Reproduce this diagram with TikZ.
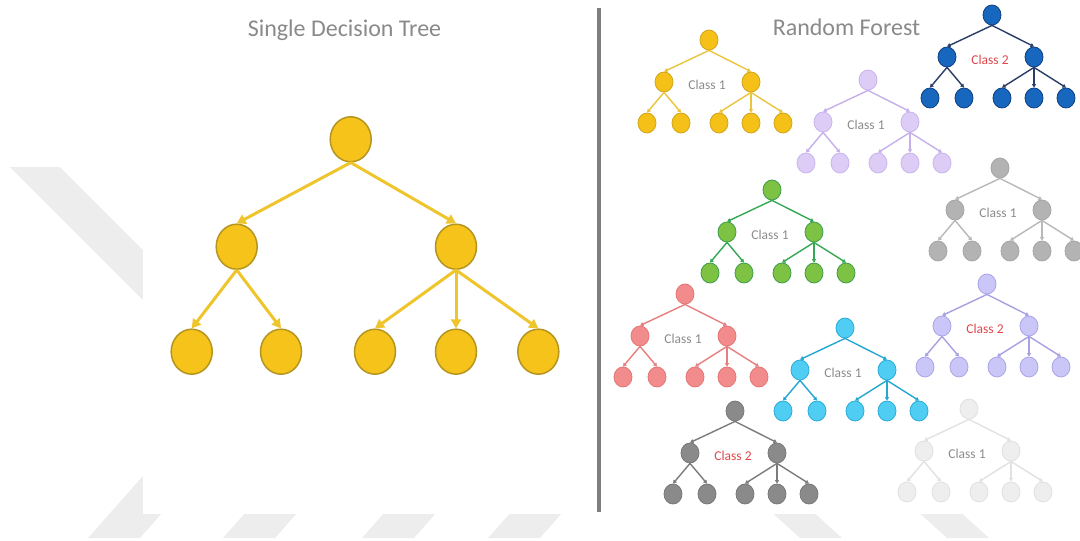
\documentclass[tikz,border=0pt]{standalone}
\usepackage{fontspec}
\setmainfont{Carlito}
\usetikzlibrary{arrows.meta,shapes.geometric}

% palette
\definecolor{wmgray}{HTML}{EDEDED}
\definecolor{titlegray}{HTML}{8A8A8A}
\definecolor{rulegray}{HTML}{7F7F7F}
\definecolor{labelgray}{HTML}{8C8C8C}
\definecolor{labelred}{HTML}{E0474C}
\definecolor{goldfill}{HTML}{F6C31B}
\definecolor{golddraw}{HTML}{B5951F}
\definecolor{goldline}{HTML}{EFC52D}

\definecolor{yellowF}{HTML}{F5C118}\definecolor{yellowD}{HTML}{D0A418}\definecolor{yellowL}{HTML}{E9C43C}
\definecolor{lilacF}{HTML}{DDCDF6}\definecolor{lilacD}{HTML}{C8B3EE}\definecolor{lilacL}{HTML}{C6B0EC}
\definecolor{navyF}{HTML}{1767BF}\definecolor{navyD}{HTML}{0F3F7F}\definecolor{navyL}{HTML}{2B3D66}
\definecolor{greenF}{HTML}{7DC242}\definecolor{greenD}{HTML}{3C9E4A}\definecolor{greenL}{HTML}{35A853}
\definecolor{silverF}{HTML}{B3B3B3}\definecolor{silverD}{HTML}{A5A5A5}\definecolor{silverL}{HTML}{B8B8B8}
\definecolor{salmonF}{HTML}{F28C8C}\definecolor{salmonD}{HTML}{E57575}\definecolor{salmonL}{HTML}{E67F7F}
\definecolor{cyanF}{HTML}{4FCDF3}\definecolor{cyanD}{HTML}{29ADD8}\definecolor{cyanL}{HTML}{25A7D3}
\definecolor{periF}{HTML}{CAC6F8}\definecolor{periD}{HTML}{AAA4E8}\definecolor{periL}{HTML}{A7A0E3}
\definecolor{slateF}{HTML}{8A8A8A}\definecolor{slateD}{HTML}{787878}\definecolor{slateL}{HTML}{7C7C7C}
\definecolor{mistF}{HTML}{EEEEEE}\definecolor{mistD}{HTML}{E0E0E0}\definecolor{mistL}{HTML}{E2E2E2}

\tikzset{
  wm/.style={fill=wmgray, draw=none},
  title/.style={font=\fontsize{24}{28}\selectfont, text=titlegray, inner sep=0pt, anchor=base},
  divider/.style={draw=rulegray, line width=4.5pt},
  bignode/.style={ellipse, minimum width=41pt, minimum height=45pt, inner sep=0pt,
                  fill=goldfill, draw=golddraw, line width=1.5pt},
  bigedge/.style={draw=goldline, line width=3pt, -{Triangle[length=9pt,width=10pt]}},
  dot/.style={ellipse, minimum width=18pt, minimum height=20pt, inner sep=0pt, line width=0.8pt},
  twig/.style={line width=1.4pt, -{Triangle[length=3.5pt,width=4pt]}},
  classlabel/.style={font=\fontsize{13.5}{15}\selectfont, inner sep=0pt},
  yellow dot/.style={fill=yellowF, draw=yellowD}, yellow twig/.style={draw=yellowL, fill=yellowL},
  lilac dot/.style={fill=lilacF, draw=lilacD},    lilac twig/.style={draw=lilacL, fill=lilacL},
  navy dot/.style={fill=navyF, draw=navyD},       navy twig/.style={draw=navyL, fill=navyL},
  green dot/.style={fill=greenF, draw=greenD},    green twig/.style={draw=greenL, fill=greenL},
  silver dot/.style={fill=silverF, draw=silverD}, silver twig/.style={draw=silverL, fill=silverL},
  salmon dot/.style={fill=salmonF, draw=salmonD}, salmon twig/.style={draw=salmonL, fill=salmonL},
  cyan dot/.style={fill=cyanF, draw=cyanD},       cyan twig/.style={draw=cyanL, fill=cyanL},
  peri dot/.style={fill=periF, draw=periD},       peri twig/.style={draw=periL, fill=periL},
  slate dot/.style={fill=slateF, draw=slateD},    slate twig/.style={draw=slateL, fill=slateL},
  mist dot/.style={fill=mistF, draw=mistD},       mist twig/.style={draw=mistL, fill=mistL},
}

% one small tree of the forest:
% #1 name prefix, #2 #3 root position, #4 palette, #5 class text, #6 class colour
\newcommand\forestTree[6]{%
  \begin{scope}[shift={(#2,#3)}]
    \node[dot,#4 dot] (#1r)  at (0,0)   {};
    \node[dot,#4 dot] (#1a)  at (-45,42) {};
    \node[dot,#4 dot] (#1b)  at (42,42)  {};
    \node[dot,#4 dot] (#1a1) at (-62,83) {};
    \node[dot,#4 dot] (#1a2) at (-28,83) {};
    \node[dot,#4 dot] (#1b1) at (10,83)  {};
    \node[dot,#4 dot] (#1b2) at (42,83)  {};
    \node[dot,#4 dot] (#1b3) at (74,83)  {};
    \node[classlabel,text=#6] (#1c) at (-2,45) {#5};
  \end{scope}
  \foreach \pp/\qq in {r/a,r/b,a/a1,a/a2,b/b1,b/b2,b/b3}
    \draw[twig,#4 twig] (#1\pp.south) -- (#1\qq.north);
}

\begin{document}
\begin{tikzpicture}[x=1pt,y=-1pt]
\useasboundingbox (0,0) rectangle (1080,541);

% faint watermark stripes behind the panel
\fill[wm] (10,167) -- (60,167) -- (260,367) -- (210,367) -- cycle;
\foreach \b in {88,223,362,488}
  \fill[wm] (\b,538) -- (\b+52,538) -- (\b+121,460) -- (\b+69,460) -- cycle;
\foreach \b in {800,947}
  \fill[wm] (\b,538) -- (\b+42,538) -- (\b-44,460) -- (\b-86,460) -- cycle;

% white panel
\fill[white] (143,0) rectangle (1080,514);

% titles and divider
\node[title] (lefttitle)  at (344.5,36) {Single Decision Tree};
\node[title] (righttitle) at (846.5,35) {Random Forest};
\draw[divider] (599,8) -- (599,512);

% single decision tree
\node[bignode] (root) at (350.7,139.3) {};
\node[bignode] (n1) at (236.7,246.7) {};
\node[bignode] (n2) at (456,246.7) {};
\node[bignode] (n11) at (191.7,351.7) {};
\node[bignode] (n12) at (281,351.7) {};
\node[bignode] (n21) at (375,351.7) {};
\node[bignode] (n22) at (456,351.7) {};
\node[bignode] (n23) at (538.3,351.7) {};
\foreach \pp/\qq in {root/n1,root/n2,n1/n11,n1/n12,n2/n21,n2/n22,n2/n23}
  \draw[bigedge] (\pp.south) -- (\qq.north);

% random forest
\forestTree{A}{709}{40}{yellow}{Class 1}{labelgray}
\forestTree{B}{868}{80}{lilac}{Class 1}{labelgray}
\forestTree{C}{992}{15}{navy}{Class 2}{labelred}
\forestTree{D}{772}{190}{green}{Class 1}{labelgray}
\forestTree{E}{1000}{168}{silver}{Class 1}{labelgray}
\forestTree{F}{685}{294}{salmon}{Class 1}{labelgray}
\forestTree{G}{845}{328}{cyan}{Class 1}{labelgray}
\forestTree{H}{987}{284}{peri}{Class 2}{labelred}
\forestTree{I}{735}{411}{slate}{Class 2}{labelred}
\forestTree{J}{969}{409}{mist}{Class 1}{labelgray}

\end{tikzpicture}
\end{document}
